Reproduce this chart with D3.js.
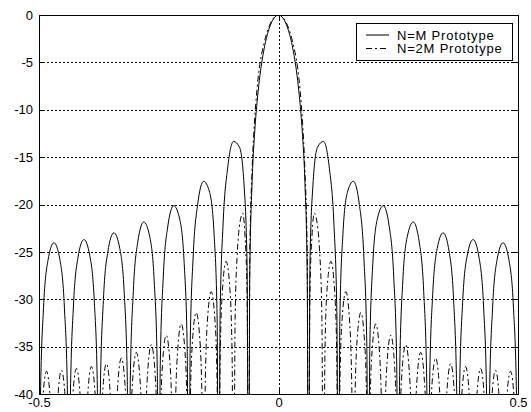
<!DOCTYPE html>
<html><head><meta charset="utf-8">
<script src="https://cdn.jsdelivr.net/npm/d3@7"></script>
<style>body{margin:0;background:#fff}svg{display:block}</style>
</head><body>
<svg id="c" width="531" height="412"></svg>
<script>
const xTicks = [-0.5, 0, 0.5];
const xTickLabels = ["-0.5", "0", "0.5"];
const yTicks = [0, -5, -10, -15, -20, -25, -30, -35, -40];
const yTickLabels = ["0", "-5", "-10", "-15", "-20", "-25", "-30", "-35", "-40"];
const seriesNames = ["N=M Prototype", "N=2M Prototype"];

// N=M prototype: [normalized frequency, magnitude dB]
const solidCurve = [
[-0.5,-60],[-0.4969,-40.19],[-0.4906,-30.94],[-0.4813,-25.91],[-0.4688,-24.04],[-0.4563,-25.84],[-0.4469,-30.94],[-0.4406,-40.04],
[-0.4375,-60],[-0.4344,-40.01],[-0.4281,-30.72],[-0.4188,-25.64],[-0.4063,-23.70],[-0.3938,-25.43],[-0.3844,-30.35],[-0.3781,-39.54],
[-0.375,-60],[-0.3719,-39.46],[-0.3656,-30.14],[-0.3563,-25.00],[-0.3438,-22.99],[-0.3313,-24.65],[-0.3219,-29.51],[-0.3156,-38.65],
[-0.3125,-60],[-0.3094,-38.53],[-0.3031,-29.16],[-0.2938,-23.96],[-0.2813,-21.85],[-0.2688,-23.40],[-0.2594,-28.18],[-0.2531,-37.27],
[-0.25,-60],[-0.2469,-37.10],[-0.2406,-27.67],[-0.2313,-22.37],[-0.2188,-20.13],[-0.2063,-21.53],[-0.1969,-26.21],[-0.1906,-35.21],
[-0.1875,-60],[-0.1844,-34.96],[-0.1781,-25.44],[-0.1688,-20.00],[-0.1563,-17.55],[-0.1438,-18.72],[-0.1344,-23.19],[-0.1281,-32.05],
[-0.125,-60],[-0.1219,-31.64],[-0.1156,-21.96],[-0.1063,-16.23],[-0.0938,-13.34],[-0.0813,-13.97],[-0.0719,-17.94],[-0.0656,-26.41],
[-0.0625,-60],[-0.06,-27.58],[-0.055,-17.47],[-0.05,-12.59],[-0.045,-9.33],[-0.04,-6.91],[-0.03,-3.57],[-0.02,-1.51],[-0.01,-0.37],
[0,0],
[0.01,-0.37],[0.02,-1.51],[0.03,-3.57],[0.04,-6.91],[0.045,-9.33],[0.05,-12.59],[0.055,-17.47],[0.06,-27.58],[0.0625,-60],
[0.0656,-26.41],[0.0719,-17.94],[0.0813,-13.97],[0.0938,-13.34],[0.1063,-16.23],[0.1156,-21.96],[0.1219,-31.64],[0.125,-60],
[0.1281,-32.05],[0.1344,-23.19],[0.1438,-18.72],[0.1563,-17.55],[0.1688,-20.00],[0.1781,-25.44],[0.1844,-34.96],[0.1875,-60],
[0.1906,-35.21],[0.1969,-26.21],[0.2063,-21.53],[0.2188,-20.13],[0.2313,-22.37],[0.2406,-27.67],[0.2469,-37.10],[0.25,-60],
[0.2531,-37.27],[0.2594,-28.18],[0.2688,-23.40],[0.2813,-21.85],[0.2938,-23.96],[0.3031,-29.16],[0.3094,-38.53],[0.3125,-60],
[0.3156,-38.65],[0.3219,-29.51],[0.3313,-24.65],[0.3438,-22.99],[0.3563,-25.00],[0.3656,-30.14],[0.3719,-39.46],[0.375,-60],
[0.3781,-39.54],[0.3844,-30.35],[0.3938,-25.43],[0.4063,-23.70],[0.4188,-25.64],[0.4281,-30.72],[0.4344,-40.01],[0.4375,-60],
[0.4406,-40.04],[0.4469,-30.94],[0.4563,-25.84],[0.4688,-24.04],[0.4813,-25.91],[0.4906,-30.94],[0.4969,-40.19],[0.5,-60]
];

// N=2M prototype: [normalized frequency, magnitude dB]
const dashedCurve = [
[-0.5,-60],[-0.4969,-47.8],[-0.4922,-40.7],[-0.4844,-37.6],[-0.4766,-40.5],[-0.4719,-47.7],
[-0.4688,-60],[-0.4656,-47.7],[-0.4609,-40.6],[-0.4531,-37.5],[-0.4453,-40.4],[-0.4406,-47.6],
[-0.4375,-60],[-0.4344,-47.5],[-0.4297,-40.4],[-0.4219,-37.3],[-0.4141,-40.2],[-0.4094,-47.4],
[-0.4063,-60],[-0.4031,-47.3],[-0.3984,-40.2],[-0.3906,-37.1],[-0.3828,-40.0],[-0.3781,-47.2],
[-0.375,-60],[-0.3719,-47.0],[-0.3672,-39.9],[-0.3594,-36.8],[-0.3516,-39.7],[-0.3469,-46.9],
[-0.3438,-60],[-0.3406,-46.5],[-0.3359,-39.3],[-0.3281,-36.2],[-0.3203,-39.1],[-0.3156,-46.3],
[-0.3125,-60],[-0.3094,-45.9],[-0.3047,-38.7],[-0.2969,-35.6],[-0.2891,-38.5],[-0.2844,-45.7],
[-0.2813,-60],[-0.2781,-45.1],[-0.2734,-37.9],[-0.2656,-34.8],[-0.2578,-37.7],[-0.2531,-44.9],
[-0.25,-60],[-0.2469,-44.1],[-0.2422,-36.9],[-0.2344,-33.8],[-0.2266,-36.7],[-0.2219,-43.9],
[-0.2188,-60],[-0.2156,-42.9],[-0.2109,-35.7],[-0.2031,-32.6],[-0.1953,-35.5],[-0.1906,-42.7],
[-0.1875,-60],[-0.1844,-41.7],[-0.1797,-34.5],[-0.1719,-31.4],[-0.1641,-34.3],[-0.1594,-41.5],
[-0.1563,-60],[-0.1531,-39.6],[-0.1484,-32.3],[-0.1406,-29.2],[-0.1328,-32.1],[-0.1281,-39.2],
[-0.125,-60],[-0.1219,-36.6],[-0.1172,-29.2],[-0.1094,-26.0],[-0.1016,-28.8],[-0.0969,-35.8],
[-0.0938,-60],[-0.0906,-32.0],[-0.0859,-25.0],[-0.0781,-21.3],[-0.0748,-20.9],[-0.0703,-23.0],[-0.0656,-29.5],
[-0.0625,-60],[-0.06,-25.5],[-0.055,-16.2],[-0.05,-11.2],[-0.045,-7.9],[-0.04,-5.6],[-0.03,-2.95],[-0.02,-1.25],[-0.01,-0.3],
[0,0],
[0.01,-0.3],[0.02,-1.25],[0.03,-2.95],[0.04,-5.6],[0.045,-7.9],[0.05,-11.2],[0.055,-16.2],[0.06,-25.5],[0.0625,-60],
[0.0656,-29.5],[0.0703,-23.0],[0.0748,-20.9],[0.0781,-21.3],[0.0859,-25.0],[0.0906,-32.0],[0.0938,-60],
[0.0969,-35.8],[0.1016,-28.8],[0.1094,-26.0],[0.1172,-29.2],[0.1219,-36.6],[0.125,-60],
[0.1281,-39.2],[0.1328,-32.1],[0.1406,-29.2],[0.1484,-32.3],[0.1531,-39.6],[0.1563,-60],
[0.1594,-41.5],[0.1641,-34.3],[0.1719,-31.4],[0.1797,-34.5],[0.1844,-41.7],[0.1875,-60],
[0.1906,-42.7],[0.1953,-35.5],[0.2031,-32.6],[0.2109,-35.7],[0.2156,-42.9],[0.2188,-60],
[0.2219,-43.9],[0.2266,-36.7],[0.2344,-33.8],[0.2422,-36.9],[0.2469,-44.1],[0.25,-60],
[0.2531,-44.9],[0.2578,-37.7],[0.2656,-34.8],[0.2734,-37.9],[0.2781,-45.1],[0.2813,-60],
[0.2844,-45.7],[0.2891,-38.5],[0.2969,-35.6],[0.3047,-38.7],[0.3094,-45.9],[0.3125,-60],
[0.3156,-46.3],[0.3203,-39.1],[0.3281,-36.2],[0.3359,-39.3],[0.3406,-46.5],[0.3438,-60],
[0.3469,-46.9],[0.3516,-39.7],[0.3594,-36.8],[0.3672,-39.9],[0.3719,-47.0],[0.375,-60],
[0.3781,-47.2],[0.3828,-40.0],[0.3906,-37.1],[0.3984,-40.2],[0.4031,-47.3],[0.4063,-60],
[0.4094,-47.4],[0.4141,-40.2],[0.4219,-37.3],[0.4297,-40.4],[0.4344,-47.5],[0.4375,-60],
[0.4406,-47.6],[0.4453,-40.4],[0.4531,-37.5],[0.4609,-40.6],[0.4656,-47.7],[0.4688,-60],
[0.4719,-47.7],[0.4766,-40.5],[0.4844,-37.6],[0.4922,-40.7],[0.4969,-47.8],[0.5,-60]
];

const svg = d3.select("#c");
const W = 531, H = 412;
const m = {left: 39, top: 15, right: 518, bottom: 394};
const font = "'Liberation Sans', Arial, sans-serif";

const x = d3.scaleLinear().domain([-0.5, 0.5]).range([m.left, m.right]);
const y = d3.scaleLinear().domain([-40, 0]).range([m.bottom, m.top]);

svg.append("rect").attr("width", W).attr("height", H).attr("fill", "#fff");

svg.append("defs").append("clipPath").attr("id", "clip")
  .append("rect").attr("x", m.left).attr("y", m.top)
  .attr("width", m.right - m.left).attr("height", m.bottom - m.top);

// grid
const grid = svg.append("g").attr("stroke", "#000").attr("stroke-width", 1)
  .attr("stroke-dasharray", "2,2").attr("shape-rendering", "crispEdges");
grid.selectAll("line.h").data(yTicks.filter(v => v > -40 && v < 0)).join("line")
  .attr("x1", m.left).attr("x2", m.right)
  .attr("y1", d => Math.round(y(d)) + 0.5).attr("y2", d => Math.round(y(d)) + 0.5);
grid.selectAll("line.v").data(xTicks.filter(v => v > -0.5 && v < 0.5)).join("line")
  .attr("y1", m.top).attr("y2", m.bottom)
  .attr("x1", d => Math.round(x(d)) + 0.5).attr("x2", d => Math.round(x(d)) + 0.5);

// curves
const line = d3.line().x(d => x(d[0])).y(d => y(d[1])).curve(d3.curveMonotoneX);
const plot = svg.append("g").attr("clip-path", "url(#clip)");
plot.append("path").datum(solidCurve).attr("d", line)
  .attr("fill", "none").attr("stroke", "#000").attr("stroke-width", 1);
plot.append("path").datum(dashedCurve).attr("d", line)
  .attr("fill", "none").attr("stroke", "#000").attr("stroke-width", 1)
  .attr("stroke-dasharray", "6,3,2,3");

// axes (box with inward ticks)
const tickLen = 5;
const axB = svg.append("g").attr("transform", `translate(0,${m.bottom})`)
  .call(d3.axisBottom(x).tickValues(xTicks).tickFormat((d, i) => xTickLabels[i]).tickSizeInner(-tickLen).tickSizeOuter(0).tickPadding(4));
const axT = svg.append("g").attr("transform", `translate(0,${m.top})`)
  .call(d3.axisTop(x).tickValues(xTicks).tickFormat("").tickSizeInner(-tickLen).tickSizeOuter(0));
const axL = svg.append("g").attr("transform", `translate(${m.left},0)`)
  .call(d3.axisLeft(y).tickValues(yTicks).tickFormat((d, i) => yTickLabels[i]).tickSizeInner(-tickLen).tickSizeOuter(0).tickPadding(6));
const axR = svg.append("g").attr("transform", `translate(${m.right},0)`)
  .call(d3.axisRight(y).tickValues(yTicks).tickFormat("").tickSizeInner(-tickLen).tickSizeOuter(0));
[axB, axT, axL, axR].forEach(a => {
  a.select(".domain").remove();
  a.selectAll("line").attr("stroke", "#000").attr("shape-rendering", "crispEdges");
  a.selectAll("text").attr("fill", "#000").attr("font-family", font).attr("font-size", 13);
});
axB.selectAll("text").attr("dy", "0.71em");

svg.append("rect").attr("x", m.left + 0.5).attr("y", m.top + 0.5)
  .attr("width", m.right - m.left).attr("height", m.bottom - m.top)
  .attr("fill", "none").attr("stroke", "#000").attr("shape-rendering", "crispEdges");

// legend
const lg = svg.append("g");
lg.append("rect").attr("x", 356.5).attr("y", 23.5).attr("width", 156).attr("height", 37)
  .attr("fill", "#fff").attr("stroke", "#000").attr("shape-rendering", "crispEdges");
const styles = [null, "6,3,2,3"];
seriesNames.forEach((name, i) => {
  const yy = 35 + i * 13.5;
  lg.append("line").attr("x1", 366).attr("x2", 389).attr("y1", yy).attr("y2", yy)
    .attr("stroke", "#000").attr("stroke-dasharray", styles[i]);
  lg.append("text").attr("x", 397).attr("y", yy).attr("dy", "0.35em")
    .attr("font-family", font).attr("font-size", 13).attr("letter-spacing", "0.8px")
    .attr("fill", "#000").text(name);
});
</script>
</body></html>
